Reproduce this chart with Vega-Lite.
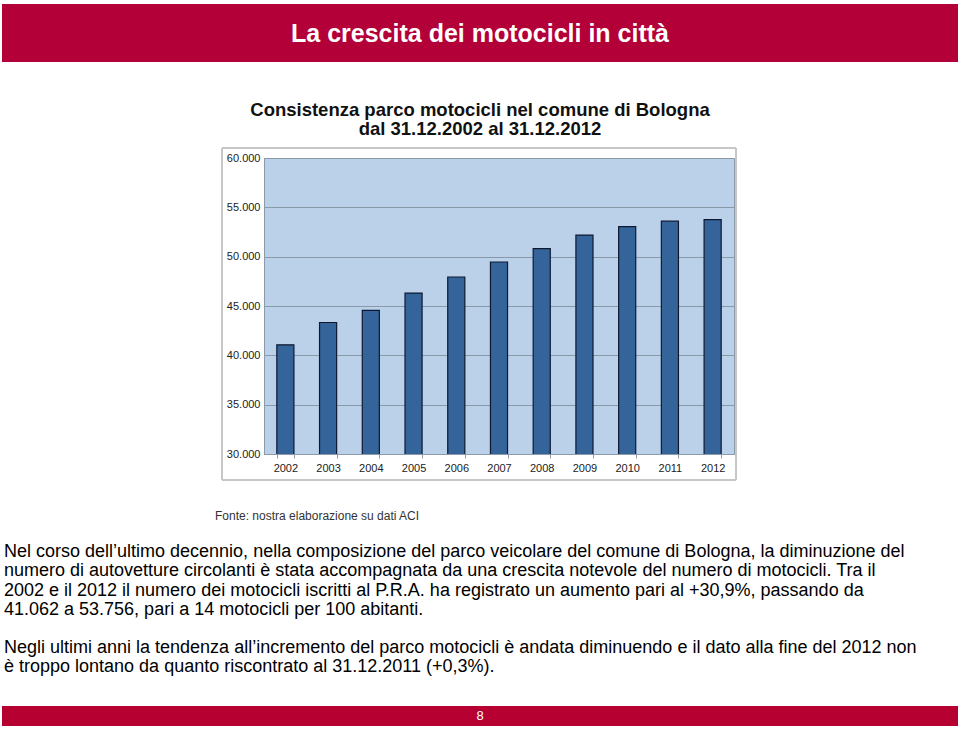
{
  "$schema": "https://vega.github.io/schema/vega-lite/v6.json",
  "padding": {"left": 2, "top": 4, "right": 2, "bottom": 3},
  "spacing": 0,
  "config": {
    "view": {"stroke": null},
    "font": "Liberation Sans"
  },
  "vconcat": [
    {
      "width": 956,
      "height": 58,
      "view": {"fill": "#B30038", "stroke": null},
      "data": {"values": [{"titolo": "La crescita dei motocicli in città"}]},
      "mark": {"type": "text", "x": 478, "y": 30, "align": "center", "baseline": "middle", "fontWeight": "bold", "fontSize": 25, "fill": "#ffffff"},
      "encoding": {"text": {"field": "titolo"}}
    },
    {
      "width": 956,
      "height": 85,
      "data": {"values": [{"titolo": ["Consistenza parco motocicli nel comune di Bologna", "dal 31.12.2002 al 31.12.2012"]}]},
      "mark": {"type": "text", "x": 478, "y": 54, "align": "center", "baseline": "alphabetic", "fontWeight": "bold", "fontSize": 18.5, "lineHeight": 19, "fill": "#111111"},
      "encoding": {"text": {"field": "titolo"}}
    },
    {
      "spacing": 0,
      "hconcat": [
        {
          "width": 219,
          "height": 296,
          "data": {"values": [{"vuoto": ""}]},
          "mark": {"type": "text"},
          "encoding": {"text": {"field": "vuoto"}}
        },
        {
          "width": 470,
          "height": 296,
          "view": {"fill": "#BBD1EA", "stroke": "#8C9AAA"},
          "data": {"values": [
            {"anno": "2002", "motocicli": 41062},
            {"anno": "2003", "motocicli": 43330},
            {"anno": "2004", "motocicli": 44560},
            {"anno": "2005", "motocicli": 46310},
            {"anno": "2006", "motocicli": 47940},
            {"anno": "2007", "motocicli": 49460},
            {"anno": "2008", "motocicli": 50810},
            {"anno": "2009", "motocicli": 52190},
            {"anno": "2010", "motocicli": 53040},
            {"anno": "2011", "motocicli": 53595},
            {"anno": "2012", "motocicli": 53756}
          ]},
          "layer": [
            {
              "mark": {"type": "rect", "x": -42, "x2": 472, "y": -10, "y2": 322, "fill": null, "stroke": "#C6C6C6", "strokeWidth": 1},
              "encoding": {}
            },
            {
              "mark": {"type": "bar", "fill": "#34649A", "stroke": "#0E1930", "strokeWidth": 1.2, "clip": true},
              "encoding": {
                "x": {
                  "field": "anno", "type": "ordinal",
                  "scale": {"paddingInner": 0.6, "paddingOuter": 0.3},
                  "axis": {"title": null, "labelAngle": 0, "labelFontSize": 11, "labelColor": "#222222", "domainColor": "#8C9AAA", "tickColor": "#8C9AAA", "tickSize": 4, "tickBand": "extent", "labelPadding": 4, "grid": false, "minExtent": 26, "maxExtent": 26}
                },
                "y": {
                  "field": "motocicli", "type": "quantitative",
                  "scale": {"domain": [30000, 60000], "zero": false, "nice": false},
                  "axis": {"title": null, "values": [30000, 35000, 40000, 45000, 50000, 55000, 60000], "labelExpr": "replace(format(datum.value, ','), ',', '.')", "labelFontSize": 11, "labelColor": "#222222", "domainColor": "#8C9AAA", "ticks": false, "labelPadding": 4, "grid": true, "gridColor": "#8A99A8", "gridWidth": 1, "minExtent": 40, "maxExtent": 40}
                }
              }
            }
          ]
        }
      ]
    },
    {
      "width": 956,
      "height": 225,
      "layer": [
        {
          "data": {"values": [{"fonte": "Fonte: nostra elaborazione su dati ACI"}]},
          "mark": {"type": "text", "x": 213, "y": 39, "align": "left", "baseline": "alphabetic", "fontSize": 12, "fill": "#333333"},
          "encoding": {"text": {"field": "fonte"}}
        },
        {
          "data": {"values": [{"testo": [
            "Nel corso dell’ultimo decennio, nella composizione del parco veicolare del comune di Bologna, la diminuzione del",
            "numero di autovetture circolanti è stata accompagnata da una crescita notevole del numero di motocicli. Tra il",
            "2002 e il 2012 il numero dei motocicli iscritti al P.R.A. ha registrato un aumento pari al +30,9%, passando da",
            "41.062 a 53.756, pari a 14 motocicli per 100 abitanti."
          ]}]},
          "mark": {"type": "text", "x": 2, "y": 76, "align": "left", "baseline": "alphabetic", "fontSize": 18, "lineHeight": 19.3, "fill": "#000000"},
          "encoding": {"text": {"field": "testo"}}
        },
        {
          "data": {"values": [{"testo": [
            "Negli ultimi anni la tendenza all’incremento del parco motocicli è andata diminuendo e il dato alla fine del 2012 non",
            "è troppo lontano da quanto riscontrato al 31.12.2011 (+0,3%)."
          ]}]},
          "mark": {"type": "text", "x": 2, "y": 172, "align": "left", "baseline": "alphabetic", "fontSize": 18, "lineHeight": 19.3, "fill": "#000000"},
          "encoding": {"text": {"field": "testo"}}
        }
      ]
    },
    {
      "width": 956,
      "height": 20,
      "view": {"fill": "#B70032", "stroke": null},
      "data": {"values": [{"pagina": "8"}]},
      "mark": {"type": "text", "x": 478, "y": 10, "align": "center", "baseline": "middle", "fontSize": 13, "fill": "#ffffff"},
      "encoding": {"text": {"field": "pagina"}}
    }
  ]
}
